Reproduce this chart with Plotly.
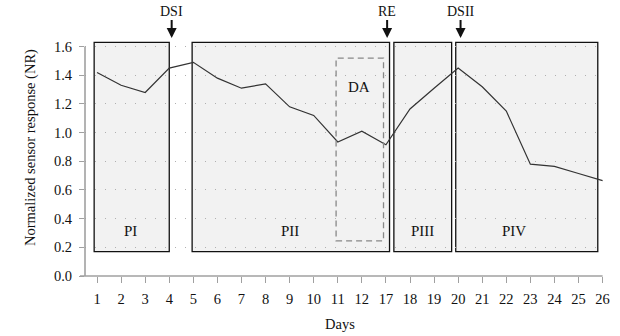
import plotly.graph_objects as go

# Measurement days (non-contiguous: days 13-16 are absent)
days = [1, 2, 3, 4, 5, 6, 7, 8, 9, 10, 11, 12, 17, 18, 19, 20, 21, 22, 23, 24, 25, 26]
nr = [1.42, 1.33, 1.28, 1.45, 1.49, 1.38, 1.31, 1.34, 1.18, 1.12, 0.935, 1.01,
      0.915, 1.165, 1.31, 1.45, 1.32, 1.15, 0.78, 0.765, 0.715, 0.665]

y_ticks = [0.0, 0.2, 0.4, 0.6, 0.8, 1.0, 1.2, 1.4, 1.6]

# Phase boxes: (label, x0, x1) in category index units
phases = [("PI", -0.12, 3.0), ("PII", 3.95, 12.15), ("PIII", 12.33, 14.73), ("PIV", 14.9, 20.8)]
phase_label_x = [1.4, 8.0, 13.5, 17.3]
phase_y = (0.17, 1.63)

# Event markers above the plot
events = [("DSI", 3.1), ("RE", 12.05), ("DSII", 15.1)]

idx = list(range(len(days)))
FONT = "Liberation Serif"
X_RANGE = [-0.5, 21.1]
AXIS_GREY = "#a0a0a0"
M_L, M_R, M_T, M_B = 85, 15, 38, 60
PLOT_W = 620 - M_L - M_R
PLOT_H = 336 - M_T - M_B


def to_paper_x(v):
    return (v - X_RANGE[0]) / (X_RANGE[1] - X_RANGE[0])


fig = go.Figure()

shapes = []
for (name, x0, x1) in phases:
    shapes.append(dict(type="rect", xref="x", yref="y", x0=x0, x1=x1,
                       y0=phase_y[0], y1=phase_y[1], layer="below",
                       fillcolor="#f2f2f2", line=dict(color="#111111", width=1.3)))
# Dashed DA window
shapes.append(dict(type="rect", xref="x", yref="y", x0=9.93, x1=11.9, y0=0.245, y1=1.52,
                   layer="above", fillcolor="rgba(0,0,0,0)",
                   line=dict(color="#888888", width=1.3, dash="6px,4px")))
# Axis lines: x-axis runs slightly past the y-axis, y-axis stops at the top tick
shapes.append(dict(type="line", xref="paper", yref="paper", x0=-5 / PLOT_W, x1=to_paper_x(21),
                   y0=0, y1=0, layer="above", line=dict(color=AXIS_GREY, width=1.6)))
shapes.append(dict(type="line", xref="paper", yref="y", x0=0, x1=0,
                   y0=0, y1=1.6, layer="above", line=dict(color=AXIS_GREY, width=1.6)))

fig.add_trace(go.Scatter(x=idx, y=nr, mode="lines",
                         line=dict(color="#333333", width=1.2), showlegend=False))

annotations = []
for (name, x0, x1), lx in zip(phases, phase_label_x):
    annotations.append(dict(x=lx, y=0.315, xref="x", yref="y", text=name, showarrow=False,
                            font=dict(family=FONT, size=15, color="#111111")))
annotations.append(dict(x=10.9, y=1.315, xref="x", yref="y", text="DA", showarrow=False,
                        font=dict(family=FONT, size=15, color="#111111")))
for name, ex in events:
    annotations.append(dict(x=ex, y=1.0, xref="x", yref="paper", text=name,
                            showarrow=True, ax=0, ay=-27, arrowhead=2, arrowsize=1,
                            arrowwidth=2, arrowcolor="#111111", standoff=0,
                            font=dict(family=FONT, size=14, color="#111111")))
# Axis titles
annotations.append(dict(x=to_paper_x(10.1), y=-(324 - 276) / PLOT_H, xref="paper", yref="paper",
                        text="Days", showarrow=False, yanchor="middle",
                        font=dict(family=FONT, size=14.5, color="#111111")))
annotations.append(dict(x=-(M_L - 30) / PLOT_W, y=(276 - 148) / PLOT_H, xref="paper",
                        yref="paper", text="Normalized sensor response (NR)", textangle=-90,
                        showarrow=False, xanchor="center", yanchor="middle",
                        font=dict(family=FONT, size=14.5, color="#111111")))

fig.update_layout(
    width=620, height=336,
    margin=dict(l=M_L, r=M_R, t=M_T, b=M_B),
    paper_bgcolor="white", plot_bgcolor="white",
    shapes=shapes, annotations=annotations,
    font=dict(family=FONT, size=14, color="#111111"),
    xaxis=dict(range=X_RANGE, tickvals=idx, ticktext=[str(d) for d in days],
               showgrid=False, zeroline=False, showline=False, automargin=False,
               ticks="outside", ticklen=6, tickcolor=AXIS_GREY, tickwidth=1.3,
               ticklabelstandoff=4, tickfont=dict(family=FONT, size=14.5)),
    yaxis=dict(range=[0, 1.66], tickvals=y_ticks, ticktext=[f"{v:.1f}" for v in y_ticks],
               showgrid=True, gridcolor="#b0b0b0", griddash="1px,9px", gridwidth=1,
               zeroline=False, showline=False, automargin=False,
               ticks="outside", ticklen=5, tickcolor=AXIS_GREY, tickwidth=1.3,
               ticklabelstandoff=4, tickfont=dict(family=FONT, size=14.5)),
)

fig.write_html("out.html")
